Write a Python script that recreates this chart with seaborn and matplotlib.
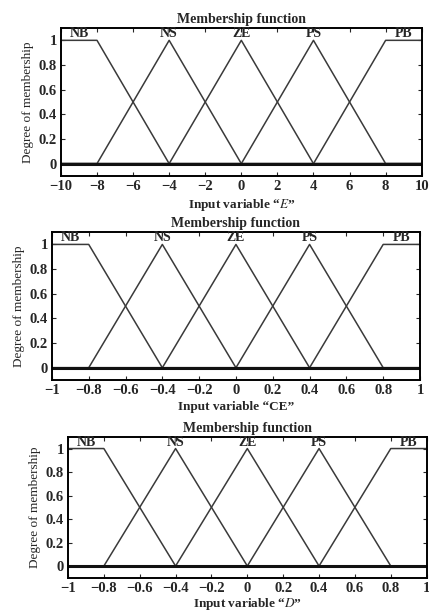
import pandas as pd
import seaborn as sns
import matplotlib.pyplot as plt

# fuzzy sets (same names on the three inputs)
nomes = ["NB", "NS", "ZE", "PS", "PB"]

# centros das funcoes de pertinencia de cada entrada
centros_E = [-8, -4, 0, 4, 8]
centros_CE = [-0.8, -0.4, 0, 0.4, 0.8]
centros_D = [-0.8, -0.4, 0, 0.4, 0.8]

faixa_E = [-10, 10]
faixa_CE = [-1, 1]
faixa_D = [-1, 1]

ticks_E = [-10, -8, -6, -4, -2, 0, 2, 4, 6, 8, 10]
ticks_CE = [-1, -0.8, -0.6, -0.4, -0.2, 0, 0.2, 0.4, 0.6, 0.8, 1]
ticks_D = [-1, -0.8, -0.6, -0.4, -0.2, 0, 0.2, 0.4, 0.6, 0.8, 1]
ticks_y = [0, 0.2, 0.4, 0.6, 0.8, 1]

titulo = "Membership function"
rotulo_y = "Degree of membership"


def tabela_mf(centros, faixa):
    # monta a tabela (x, grau, conjunto) com trapezios nas pontas e triangulos no meio
    linhas = []
    a, b = faixa
    n = len(centros)
    for i, nome in enumerate(nomes):
        if i == 0:
            pts = [(a, 1), (centros[0], 1), (centros[1], 0), (b, 0)]
        elif i == n - 1:
            pts = [(a, 0), (centros[n - 2], 0), (centros[n - 1], 1), (b, 1)]
        else:
            pts = [(a, 0), (centros[i - 1], 0), (centros[i], 1), (centros[i + 1], 0), (b, 0)]
        for x, y in pts:
            linhas.append({"x": x, "grau": y, "conjunto": nome})
    return pd.DataFrame(linhas)


sns.set_style("ticks")
plt.rcParams["font.family"] = ["Liberation Serif", "DejaVu Serif"]
plt.rcParams["mathtext.fontset"] = "stix"
plt.rcParams["axes.linewidth"] = 1.4

fig = plt.figure(figsize=(4.29, 6.14), dpi=100)

paineis = [
    (centros_E, faixa_E, ticks_E, "Input variable \u201c$\\it{E}$\u201d", [0.142, 0.7134, 0.841, 0.241], 3),
    (centros_CE, faixa_CE, ticks_CE, "Input variable \u201cCE\u201d", [0.121, 0.381, 0.858, 0.241], 3),
    (centros_D, faixa_D, ticks_D, "Input variable \u201c$\\it{D}$\u201d", [0.1585, 0.059, 0.836, 0.2296], 1),
]

for centros, faixa, ticks, rotulo_x, pos, lp in paineis:
    ax = fig.add_axes(pos)
    df = tabela_mf(centros, faixa)
    sns.lineplot(data=df, x="x", y="grau", hue="conjunto", units="conjunto",
                 estimator=None, sort=False, palette=["#3a3a3a"] * 5,
                 linewidth=1.1, legend=False, ax=ax)
    ax.axhline(0, color="#111111", linewidth=2.2)
    ax.set_xlim(faixa)
    ax.set_ylim(-0.1, 1.1)
    ax.set_xticks(ticks)
    ax.set_xticklabels([f"{v:g}".replace("-", "\u2212") for v in ticks], fontweight="bold")
    ax.set_yticks(ticks_y)
    ax.set_yticklabels([f"{v:g}" for v in ticks_y], fontweight="bold")
    ax.tick_params(direction="in", top=True, right=True, length=3, labelsize=10.5, pad=3)
    for s in ax.spines.values():
        s.set_visible(True)
        s.set_color("black")

    # nomes dos conjuntos em cima dos picos
    largura = faixa[1] - faixa[0]
    for i, nome in enumerate(nomes):
        xn = centros[i]
        if i == 0:
            xn = faixa[0] + 0.05 * largura
        if i == len(nomes) - 1:
            xn = faixa[1] - 0.05 * largura
        ax.text(xn, 1.055, nome, ha="center", va="center", fontsize=10, fontweight="bold")

    ax.set_title(titulo, fontsize=10, fontweight="bold", pad=3.5)
    ax.set_xlabel(rotulo_x, fontsize=9.5, fontweight="bold", labelpad=lp)
    ax.set_ylabel(rotulo_y, fontsize=9.5, labelpad=3)

fig.savefig("out.png", dpi=100)
